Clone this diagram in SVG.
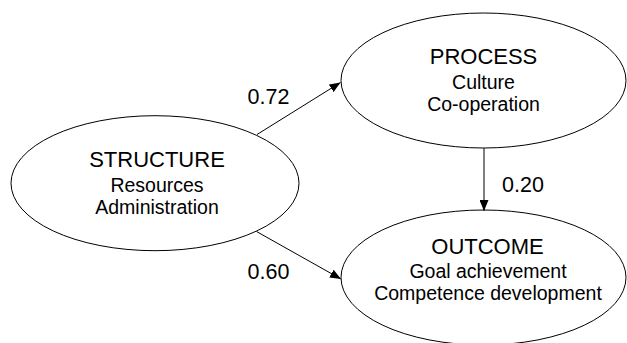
<svg xmlns="http://www.w3.org/2000/svg" width="627" height="343" viewBox="0 0 627 343">
<style>
.node{fill:#fff;stroke:#000;stroke-width:1}
.t{font-family:"Liberation Sans",Arial,sans-serif;font-size:22px;fill:#000;text-anchor:middle}
.s{font-family:"Liberation Sans",Arial,sans-serif;font-size:19.5px;fill:#000;text-anchor:middle}
.n{font-family:"Liberation Sans",Arial,sans-serif;font-size:21.5px;fill:#000}
.c{stroke:#000;stroke-width:1;fill:none;marker-end:url(#ah)}
</style>
<defs>
<marker id="ah" markerWidth="11" markerHeight="9" refX="11" refY="4.5" orient="auto" markerUnits="userSpaceOnUse">
<path d="M0,0 L11,4.5 L0,9 Z" fill="#000"/>
</marker>
</defs>
<rect width="627" height="343" fill="#fff"/>
<g id="structure">
<ellipse class="node" cx="155" cy="183.2" rx="144" ry="67.5"/>
<text class="t" x="157" y="167">STRUCTURE</text>
<text class="s" x="157" y="192">Resources</text>
<text class="s" x="157" y="214">Administration</text>
</g>
<g id="process">
<ellipse class="node" cx="483.5" cy="80.5" rx="142.5" ry="67.5"/>
<text class="t" x="483.5" y="63.5">PROCESS</text>
<text class="s" x="483.5" y="89">Culture</text>
<text class="s" x="483.5" y="111">Co-operation</text>
</g>
<g id="outcome">
<ellipse class="node" cx="483.5" cy="277.5" rx="142.5" ry="67.5"/>
<text class="t" x="487.5" y="253.5">OUTCOME</text>
<text class="s" x="488" y="277.5">Goal achievement</text>
<text class="s" x="488" y="300">Competence development</text>
</g>
<g id="connectors">
<line class="c" x1="257" y1="134.5" x2="340.5" y2="82.5"/>
<line class="c" x1="256.5" y1="231.5" x2="341" y2="279"/>
<line class="c" x1="484" y1="148" x2="484" y2="211"/>
<text class="n" x="247.5" y="104">0.72</text>
<text class="n" x="247.5" y="278.5">0.60</text>
<text class="n" x="502" y="192">0.20</text>
</g>
</svg>
